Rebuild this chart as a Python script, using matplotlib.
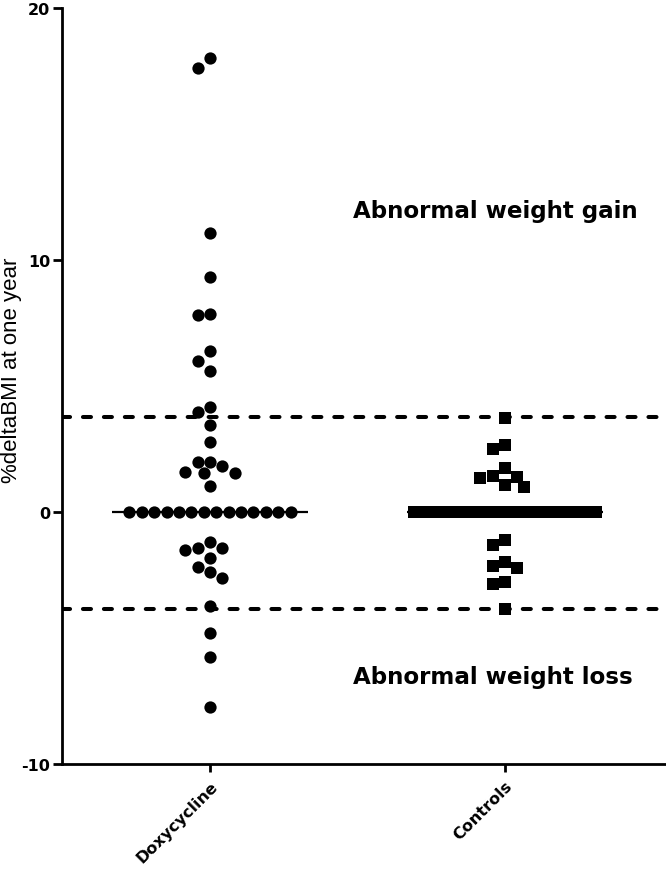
import numpy as np
import matplotlib
matplotlib.use('Agg')
import matplotlib.pyplot as plt

# Dados ---------------------------------------------------------------------#

grupos = ['Doxycycline', 'Controls']

doxy = [18.0, 17.6, 11.06, 9.34, 7.86, 7.82, 6.40, 6.0, 5.61,
        4.15, 3.98, 3.47, 2.79, 1.97, 1.97, 1.81, 1.57, 1.55, 1.55, 1.04,
        0.0, 0.0, 0.0, 0.0, 0.0, 0.0, 0.0, 0.0, 0.0, 0.0, 0.0, 0.0, 0.0, 0.0,
        -1.20, -1.43, -1.44, -1.49, -1.84, -2.19, -2.39, -2.62,
        -3.72, -4.80, -5.77, -7.75]

controles = [3.73, 2.67, 2.50, 1.75, 1.42, 1.40, 1.35, 1.08, 0.98] \
            + [0.0] * 34 \
            + [-1.10, -1.30, -2.0, -2.16, -2.24, -2.77, -2.86, -3.85]

limite_ganho = 3.77
limite_perda = -3.85

yticks = [-10, 0, 10, 20]

#---------------------------------------------------------------------------#


# Espalha os pontos na horizontal (tipo beeswarm), em pixels
def espalhar(ax, xc, vals, d, maxw):
    pts = ax.transData.transform(np.column_stack([np.full(len(vals), xc), vals]))
    x0 = pts[0, 0]
    ys = pts[:, 1]
    offs = np.zeros(len(vals))
    feito = np.zeros(len(vals), dtype=bool)
    colocados = []

    # valores repetidos (3 ou mais): ficam em linha, centrados
    for v in np.unique(vals):
        idx = [i for i in range(len(vals)) if vals[i] == v]
        n = len(idx)
        if n < 3:
            continue
        if n * d > 2 * maxw:
            offs[idx] = np.linspace(-maxw, maxw, n)
        else:
            offs[idx] = (np.arange(n) - (n - 1) / 2) * d
        feito[idx] = True
        for i in idx:
            colocados.append((offs[i], ys[i]))

    passo = d / 2
    cand = [0.0]
    for k in range(1, 40):
        cand += [-k * passo, k * passo]

    for i in range(len(vals)):
        if feito[i]:
            continue
        for c in cand:
            ok = True
            for (ox, oy) in colocados:
                if (c - ox) ** 2 + (ys[i] - oy) ** 2 < (d * 0.98) ** 2:
                    ok = False
                    break
            if ok:
                offs[i] = c
                break
        colocados.append((offs[i], ys[i]))

    novos = ax.transData.inverted().transform(np.column_stack([x0 + offs, ys]))
    return novos[:, 0]


plt.rcParams['font.family'] = 'DejaVu Sans'

fig = plt.figure(figsize=(6.66, 8.7), dpi=100)
ax = fig.add_axes([62 / 666, 105 / 870, 604 / 666, 756 / 870])

ax.set_xlim(-0.502, 1.546)
ax.set_ylim(-10, 20)

# Linhas tracejadas dos limites
for lim in [limite_ganho, limite_perda]:
    ax.axhline(lim, color='black', lw=2.9, linestyle=(0, (2.0, 3.2)),
               dash_capstyle='round', zorder=1)

# Pontos
xd = espalhar(ax, 0, doxy, 12.4, 91)
xc = espalhar(ax, 1, controles, 12.4, 91)
ax.scatter(xd, doxy, s=78, marker='o', color='black', linewidths=0, zorder=3)
ax.scatter(xc, controles, s=71, marker='s', color='black', linewidths=0, zorder=3)

# Medianas
for i, vals in enumerate([doxy, controles]):
    ax.hlines(np.median(vals), i - 0.332, i + 0.332, color='black', lw=1.6, zorder=2)

# Textos
ax.text(0.485, 11.7, 'Abnormal weight gain', fontsize=16.6, fontweight='bold',
        ha='left', va='baseline')
ax.text(0.485, -6.8, 'Abnormal weight loss', fontsize=16.6, fontweight='bold',
        ha='left', va='baseline')

# Eixos
ax.spines['top'].set_visible(False)
ax.spines['right'].set_visible(False)
ax.spines['left'].set_linewidth(2)
ax.spines['bottom'].set_linewidth(2)

ax.set_yticks(yticks)
ax.set_yticklabels([str(t) for t in yticks], fontsize=11.5, fontweight='bold')
ax.set_xticks([0, 1])
ax.set_xticklabels(grupos, fontsize=11.5, fontweight='bold', rotation=45,
                   ha='right', va='top', rotation_mode='anchor')
ax.tick_params(axis='y', direction='out', length=6.5, width=2, pad=2)
ax.tick_params(axis='x', direction='out', length=6, width=2, pad=4)

fig.text(12 / 666, 1 - 370 / 870, '%deltaBMI at one year', family='Liberation Sans',
         fontsize=16, rotation=90, ha='center', va='center')

fig.savefig('out.png', dpi=100)
